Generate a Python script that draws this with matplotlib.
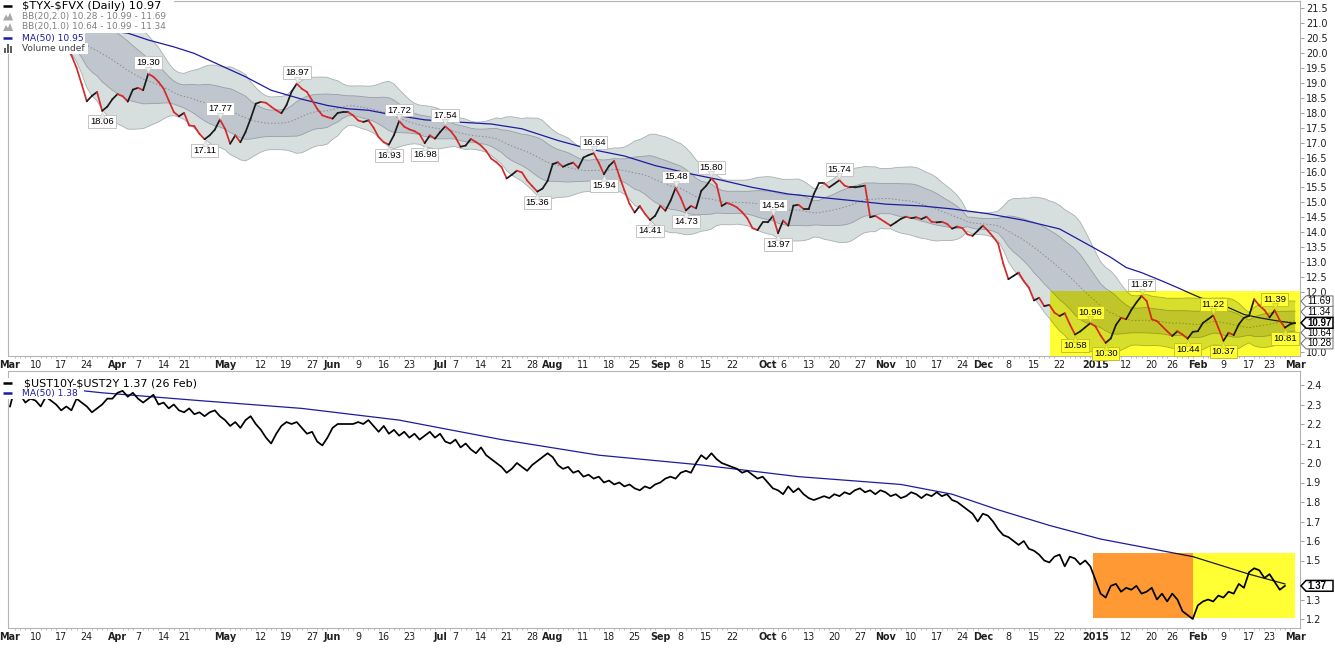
import numpy as np
import pandas as pd
import matplotlib
matplotlib.use("Agg")
import matplotlib.pyplot as plt
from matplotlib.collections import LineCollection
from matplotlib.patches import Rectangle, Polygon
from matplotlib.lines import Line2D
from matplotlib.colors import to_rgb
from matplotlib.transforms import offset_copy, IdentityTransform

plt.rcParams['font.family'] = ['DejaVu Sans']

W, H = 1335, 650

# ---------------- data ----------------
holidays = ["2014-04-18", "2014-05-26", "2014-07-04", "2014-09-01", "2014-11-27",
            "2014-12-25", "2015-01-01", "2015-01-19", "2015-02-16"]
days = pd.bdate_range("2014-03-03", "2015-03-02")
days = days[~days.isin(pd.to_datetime(holidays))]

tyx_fvx = [
    20.75, 20.85, 20.90, 20.80, 20.85, 20.70, 20.55, 20.60, 20.45, 20.30,
    20.35, 20.20, 19.92, 19.50, 18.95, 18.38, 18.56, 18.69, 18.06, 18.20,
    18.45, 18.62, 18.55, 18.37, 18.77, 18.83, 18.75, 19.30, 19.20, 19.03,
    18.80, 18.41, 18.02, 17.88, 17.99, 17.57, 17.55, 17.29, 17.11, 17.24,
    17.43, 17.77, 17.46, 16.96, 17.24, 17.01, 17.35, 17.80, 18.30, 18.36,
    18.33, 18.20, 18.08, 17.98, 18.25, 18.70, 18.97, 18.80, 18.69, 18.41,
    18.13, 17.91, 17.85, 17.80, 17.99, 18.02, 18.02, 17.91, 17.74, 17.69,
    17.74, 17.50, 17.18, 17.01, 16.93, 17.25, 17.72, 17.53, 17.44, 17.38,
    17.28, 16.98, 17.24, 17.13, 17.35, 17.54, 17.40, 17.18, 16.86, 16.90,
    17.12, 17.02, 16.90, 16.72, 16.46, 16.34, 16.18, 15.80, 15.92, 16.06,
    16.00, 15.73, 15.54, 15.36, 15.46, 15.72, 16.28, 16.34, 16.19, 16.27,
    16.33, 16.15, 16.50, 16.58, 16.64, 16.32, 15.94, 16.22, 16.38, 15.88,
    15.40, 14.95, 14.66, 14.88, 14.62, 14.41, 14.55, 14.88, 14.72, 15.05,
    15.48, 15.15, 14.73, 14.88, 14.80, 15.38, 15.56, 15.80, 15.60, 14.88,
    14.98, 14.92, 14.83, 14.67, 14.47, 14.14, 14.07, 14.33, 14.33, 14.54,
    13.97, 14.39, 14.22, 14.89, 14.92, 14.78, 14.78, 15.28, 15.64, 15.64,
    15.50, 15.62, 15.74, 15.56, 15.50, 15.50, 15.53, 15.56, 14.50, 14.55,
    14.44, 14.33, 14.22, 14.33, 14.45, 14.52, 14.47, 14.50, 14.44, 14.52,
    14.35, 14.33, 14.35, 14.28, 14.12, 14.19, 14.14, 13.93, 13.88, 14.05,
    14.22, 14.05, 13.85, 13.62, 12.95, 12.43, 12.54, 12.65, 12.37, 12.15,
    11.72, 11.81, 11.53, 11.57, 11.31, 11.20, 11.29, 10.92, 10.58, 10.68,
    10.82, 10.96, 10.85, 10.55, 10.30, 10.45, 10.90, 11.14, 11.09, 11.40,
    11.65, 11.87, 11.70, 11.09, 11.03, 10.86, 10.69, 10.53, 10.69, 10.58,
    10.44, 10.67, 10.69, 10.97, 11.09, 11.22, 10.81, 10.37, 10.64, 10.56,
    10.92, 11.14, 11.20, 11.76, 11.55, 11.40, 11.15, 11.39, 11.05, 10.81,
    10.92, 10.97]

ust10y_2y = [
    2.29, 2.39, 2.35, 2.31, 2.33, 2.32, 2.29, 2.34, 2.32, 2.30,
    2.27, 2.29, 2.27, 2.33, 2.31, 2.29, 2.26, 2.28, 2.30, 2.33,
    2.33, 2.36, 2.37, 2.34, 2.36, 2.33, 2.31, 2.33, 2.35, 2.30,
    2.31, 2.28, 2.30, 2.27, 2.26, 2.28, 2.25, 2.26, 2.24, 2.26,
    2.27, 2.24, 2.22, 2.19, 2.21, 2.18, 2.22, 2.24, 2.20, 2.17,
    2.13, 2.10, 2.15, 2.19, 2.21, 2.20, 2.21, 2.18, 2.15, 2.16,
    2.11, 2.09, 2.13, 2.18, 2.20, 2.20, 2.20, 2.20, 2.21, 2.20,
    2.22, 2.19, 2.16, 2.19, 2.15, 2.17, 2.14, 2.16, 2.13, 2.15,
    2.12, 2.14, 2.16, 2.13, 2.15, 2.11, 2.10, 2.12, 2.08, 2.10,
    2.07, 2.05, 2.08, 2.04, 2.02, 2.00, 1.98, 1.95, 1.97, 2.00,
    1.98, 1.96, 1.99, 2.01, 2.03, 2.05, 2.03, 1.99, 1.97, 1.98,
    1.95, 1.96, 1.93, 1.94, 1.92, 1.93, 1.90, 1.91, 1.89, 1.90,
    1.88, 1.89, 1.87, 1.86, 1.88, 1.87, 1.89, 1.90, 1.92, 1.93,
    1.92, 1.95, 1.96, 1.95, 2.00, 2.04, 2.02, 2.05, 2.02, 2.00,
    1.99, 1.98, 1.97, 1.95, 1.96, 1.94, 1.92, 1.93, 1.90, 1.87,
    1.86, 1.84, 1.88, 1.85, 1.87, 1.84, 1.82, 1.81, 1.82, 1.83,
    1.82, 1.84, 1.83, 1.85, 1.84, 1.86, 1.87, 1.85, 1.86, 1.84,
    1.86, 1.85, 1.83, 1.84, 1.82, 1.83, 1.85, 1.84, 1.82, 1.84,
    1.83, 1.85, 1.83, 1.84, 1.81, 1.80, 1.78, 1.76, 1.74, 1.70,
    1.74, 1.73, 1.70, 1.66, 1.63, 1.62, 1.60, 1.58, 1.60, 1.56,
    1.55, 1.53, 1.50, 1.49, 1.52, 1.53, 1.47, 1.52, 1.51, 1.48,
    1.50, 1.47, 1.40, 1.33, 1.31, 1.37, 1.38, 1.34, 1.36, 1.35,
    1.37, 1.33, 1.34, 1.36, 1.30, 1.33, 1.29, 1.33, 1.30, 1.24,
    1.22, 1.20, 1.27, 1.29, 1.30, 1.29, 1.32, 1.31, 1.34, 1.33,
    1.38, 1.36, 1.44, 1.46, 1.45, 1.41, 1.43, 1.39, 1.35, 1.37]

# MA(50) (session number, value)
top_ma_session = [0, 5, 10, 14, 20, 23, 27, 32, 36, 41, 46, 51, 57, 62, 66, 70, 74, 81, 87, 94,
                  100, 107, 113, 120, 126, 133, 139, 145, 152, 158, 165, 171, 178, 184, 191,
                  198, 205, 212, 215, 218, 221, 225, 228, 231, 234, 238, 241, 244, 247, 251]
top_ma = [21.05, 20.98, 20.90, 20.83, 20.72, 20.66, 20.43, 20.20, 19.98, 19.59, 19.20, 18.75,
          18.45, 18.24, 18.13, 18.08, 17.95, 17.76, 17.69, 17.62, 17.46, 17.07, 16.79, 16.55,
          16.23, 15.95, 15.74, 15.50, 15.28, 15.17, 15.05, 14.94, 14.88, 14.78, 14.62, 14.40,
          14.11, 13.45, 13.16, 12.82, 12.65, 12.37, 12.15, 11.92, 11.70, 11.48, 11.25, 11.14,
          11.05, 10.95]
bot_ma_session = [0, 18, 37, 57, 76, 96, 115, 135, 154, 174, 184, 193, 203, 213, 223, 231, 242, 249]
bot_ma = [2.41, 2.36, 2.32, 2.28, 2.22, 2.12, 2.04, 1.99, 1.93, 1.89, 1.84, 1.76, 1.68, 1.61,
          1.56, 1.52, 1.43, 1.38]

top_peaks = [27, 41, 56, 76, 85, 114, 130, 137, 149, 162, 211, 221, 235, 247]
top_troughs = [18, 38, 74, 81, 103, 116, 125, 132, 150, 208, 214, 230, 237, 249]

top_title = "$TYX-$FVX (Daily) 10.97"
bb2_text = "BB(20,2.0) 10.28 - 10.99 - 11.69"
bb1_text = "BB(20,1.0) 10.64 - 10.99 - 11.34"
ma_top_text = "MA(50) 10.95"
vol_text = "Volume undef"
bot_title = "$UST10Y-$UST2Y 1.37 (26 Feb)"
ma_bot_text = "MA(50) 1.38"
top_tags = [(11.69, "11.69", False), (10.28, "10.28", False), (11.34, "11.34", False),
            (10.64, "10.64", False), (10.97, "10.97", True)]
bot_tags = [(1.37, "1.37", True)]
top_yticks = [10.0, 12.0, 12.5, 13.0, 13.5, 14.0, 14.5, 15.0, 15.5, 16.0, 16.5, 17.0, 17.5,
              18.0, 18.5, 19.0, 19.5, 20.0, 20.5, 21.0, 21.5]
bot_yticks = [1.2, 1.3, 1.5, 1.6, 1.7, 1.8, 1.9, 2.0, 2.1, 2.2, 2.3, 2.4]

tick_dates = ["2014-03-03", "2014-03-10", "2014-03-17", "2014-03-24", "2014-04-01", "2014-04-07",
              "2014-04-14", "2014-04-21", "2014-05-01", "2014-05-12", "2014-05-19", "2014-05-27",
              "2014-06-02", "2014-06-09", "2014-06-16", "2014-06-23", "2014-07-01", "2014-07-07",
              "2014-07-14", "2014-07-21", "2014-07-28", "2014-08-01", "2014-08-11", "2014-08-18",
              "2014-08-25", "2014-09-02", "2014-09-08", "2014-09-15", "2014-09-22", "2014-10-01",
              "2014-10-06", "2014-10-13", "2014-10-20", "2014-10-27", "2014-11-03", "2014-11-10",
              "2014-11-17", "2014-11-24", "2014-12-01", "2014-12-08", "2014-12-15", "2014-12-22",
              "2015-01-02", "2015-01-12", "2015-01-20", "2015-01-26", "2015-02-02", "2015-02-09",
              "2015-02-17", "2015-02-23", "2015-03-02"]
tick_text = ["Mar", "10", "17", "24", "Apr", "7", "14", "21", "May", "12", "19", "27",
             "Jun", "9", "16", "23", "Jul", "7", "14", "21", "28", "Aug", "11", "18", "25",
             "Sep", "8", "15", "22", "Oct", "6", "13", "20", "27", "Nov", "10", "17", "24",
             "Dec", "8", "15", "22", "2015", "12", "20", "26", "Feb", "9", "17", "23", "Mar"]

# ---------------- derived ----------------
close = np.array(tyx_fvx)
spread = np.array(ust10y_2y)
x1 = np.arange(len(close))
x2 = np.arange(len(spread))
s = pd.Series(close)
mid = s.rolling(20, min_periods=1).mean().values
sd = s.rolling(20, min_periods=1).std(ddof=0).values
up2, lo2 = mid + 2 * sd, mid - 2 * sd
up1, lo1 = mid + sd, mid - sd
tick_idx = [days.get_loc(pd.Timestamp(d)) for d in tick_dates]

RED = '#d42a2a'
BLK = '#1a1a1a'
BLUE = '#1c1ca0'
C_OUT = '#d7dede'
C_IN = '#c0c6cd'
E_OUT = '#a8b0b2'
E_IN = '#979fa6'
C_MID = '#8c8c8c'
YEL = '#ffff33'
ORA = '#ff9933'


def mul(c, h):
    return tuple(np.array(to_rgb(c)) * np.array(to_rgb(h)))


def esc(t):
    return t.replace('$', r'\$')


fig = plt.figure(figsize=(W / 100, H / 100), dpi=100)
fig.patch.set_facecolor('white')
ax1 = fig.add_axes([8 / W, (H - 356) / H, 1292 / W, 355 / H])
ax2 = fig.add_axes([8 / W, (H - 628) / H, 1292 / W, 257 / H])

XL = (-0.39, 251.95)
ax1.set_xlim(*XL)
ax2.set_xlim(*XL)
ax1.set_ylim(21.5 - 348 / 29.9, 21.5 + 7 / 29.9)
ax2.set_ylim(1.2 - 9 / 195, 2.4 + 14 / 195)


def value_label(ax, i, up, f, z):
    v = close[i]
    dy = 11 if up else -11
    arts = []
    t = ax.annotate(f"{v:.2f}", xy=(i, v), xytext=(0, dy), textcoords='offset pixels',
                    ha='center', va='center', fontsize=6.8, family='Liberation Sans',
                    color=f('#000000'), zorder=z,
                    bbox=dict(boxstyle='square,pad=0.2', fc=f('#ffffff'), ec=f('#c4c4c4'), lw=0.7))
    arts.append(t)
    tr = offset_copy(ax.transData, fig=ax.figure, x=0, y=(4 if up else -4), units='dots')
    m = ax.plot([i], [v], marker='v' if up else '^', ms=4.5, color=f('#ececec'),
                mec=f('#c4c4c4'), mew=0.4, transform=tr, zorder=z, ls='none')[0]
    arts.append(m)
    return arts


def draw_top(ax, hl=None, clip=None, z=1.0):
    f = (lambda c: mul(c, hl)) if hl else (lambda c: c)
    arts = []
    arts.append(ax.fill_between(x1, lo2, up2, facecolor=f(C_OUT), edgecolor='none', zorder=z))
    arts.append(ax.fill_between(x1, lo1, up1, facecolor=f(C_IN), edgecolor='none', zorder=z + 0.1))
    for arr, c in ((up2, E_OUT), (lo2, E_OUT), (up1, E_IN), (lo1, E_IN)):
        arts += ax.plot(x1, arr, color=f(c), lw=0.6, zorder=z + 0.2)
    arts += ax.plot(x1, mid, color=f(C_MID), lw=0.7, ls=(0, (1.5, 2)), zorder=z + 0.3)
    arts += ax.plot(top_ma_session, top_ma, color=f(BLUE), lw=0.9, zorder=z + 0.4)
    pts = np.column_stack([x1, close])
    segs = np.stack([pts[:-1], pts[1:]], axis=1)
    cols = [f(RED) if close[k + 1] < close[k] else f(BLK) for k in range(len(close) - 1)]
    lc = LineCollection(segs, colors=cols, linewidths=1.25, zorder=z + 0.5, capstyle='round',
                        joinstyle='round')
    ax.add_collection(lc)
    arts.append(lc)
    for i in top_peaks:
        arts += value_label(ax, i, True, f, z + 0.6)
    for i in top_troughs:
        arts += value_label(ax, i, False, f, z + 0.6)
    if clip is not None:
        for a in arts:
            a.set_clip_path(clip)


def draw_bot(ax, hl=None, clip=None, z=1.0):
    f = (lambda c: mul(c, hl)) if hl else (lambda c: c)
    arts = []
    arts += ax.plot(bot_ma_session, bot_ma, color=f(BLUE), lw=0.9, zorder=z)
    arts += ax.plot(x2, spread, color=f('#000000'), lw=1.25, zorder=z + 0.1,
                    solid_joinstyle='round')
    if clip is not None:
        for a in arts:
            a.set_clip_path(clip)


# pass 1: normal
draw_top(ax1, z=1)
draw_bot(ax2, z=1)

# highlight rectangles (multiply-style highlighter)
r_top = Rectangle((203.1, 5.0), 60, 12.05 - 5.0, facecolor=YEL, edgecolor='none', zorder=10)
ax1.add_patch(r_top)
draw_top(ax1, hl=YEL, clip=r_top, z=11)

r_or = Rectangle((211.5, 1.205), 231.1 - 211.5, 1.538 - 1.205, facecolor=ORA, edgecolor='none', zorder=10)
r_ye = Rectangle((231.1, 1.205), 251.0 - 231.1, 1.538 - 1.205, facecolor=YEL, edgecolor='none', zorder=10)
ax2.add_patch(r_or)
ax2.add_patch(r_ye)
draw_bot(ax2, hl=ORA, clip=r_or, z=11)
draw_bot(ax2, hl=YEL, clip=r_ye, z=11)

# axes styling
for ax in (ax1, ax2):
    for sp in ax.spines.values():
        sp.set_color('#b4b4b4')
        sp.set_linewidth(0.8)
    ax.set_facecolor('white')
    ax.yaxis.tick_right()
    ax.tick_params(axis='y', which='major', direction='out', length=3, width=0.6,
                   color='#909090', labelsize=7, pad=1.5, labelcolor='#202020')
    ax.set_xticks(tick_idx)
    ax.set_xticklabels(tick_text)
    ax.tick_params(axis='x', which='major', length=0, pad=3, labelsize=6.9, labelcolor='#202020')
    ax.set_xticks(np.arange(len(days)), minor=True)
    ax.tick_params(axis='x', which='minor', direction='out', length=1.5, width=0.5, color='#a0a0a0')
    for lab, txt in zip(ax.get_xticklabels(), tick_text):
        if not (txt.isdigit() and len(txt) <= 2):
            lab.set_fontweight('bold')

ax1.set_yticks(top_yticks)
ax1.set_yticklabels([f"{v:.1f}" for v in top_yticks])
ax2.set_yticks(bot_yticks)
ax2.set_yticklabels([f"{v:.1f}" for v in bot_yticks])


# ---------------- legends (pixel placement) ----------------
def fx(x):
    return x / W


def fy(y):
    return 1 - y / H


def legend_row(yc, text, color, size, box_w, weight='normal', tx=22):
    fig.add_artist(Rectangle((0, fy(yc + 5.5)), fx(box_w), 11 / H, transform=fig.transFigure,
                             fc='white', ec='none', zorder=20))
    fig.text(fx(tx), fy(yc), esc(text), color=color, fontsize=size, va='center', ha='left',
             zorder=21, fontweight=weight)


def dash(yc, color, x0=3, x1_=12, lw=1.8):
    fig.add_artist(Line2D([fx(x0), fx(x1_)], [fy(yc), fy(yc)], transform=fig.transFigure,
                          color=color, lw=lw, zorder=22, solid_capstyle='butt'))


def mountain(yc):
    pts = [(3, yc + 4), (6, yc - 2), (8, yc + 1), (10, yc - 4), (13, yc + 4)]
    fig.add_artist(Polygon([(fx(a), fy(b)) for a, b in pts], closed=True,
                           transform=fig.transFigure, fc='#a8a8a8', ec='none', zorder=22))


def bars(yc):
    for k, hgt in enumerate([5, 8, 6]):
        fig.add_artist(Rectangle((fx(4 + 3 * k), fy(yc + 4)), fx(2), hgt / H,
                                 transform=fig.transFigure, fc='#606060', ec='none', zorder=22))


legend_row(6, top_title, '#000000', 8.2, 174, tx=22)
dash(6, '#000000')
legend_row(16.5, bb2_text, '#808080', 6.4, 166, tx=22)
mountain(16.5)
legend_row(27, bb1_text, '#808080', 6.4, 166, tx=22)
mountain(27)
legend_row(38, ma_top_text, BLUE, 6.6, 85, tx=22)
dash(38, BLUE)
legend_row(48.5, vol_text, '#404040', 6.5, 88, tx=22)
bars(48.5)

legend_row(383, bot_title, '#000000', 8.0, 205, tx=24)
dash(383, '#000000')
legend_row(393, ma_bot_text, BLUE, 6.6, 84, tx=22)
dash(393, BLUE)


# ---------------- value tags on right axis ----------------
def tag(ax, v, text, bold):
    yd = ax.transData.transform((0, v))[1]
    x0 = 1301
    hh = 5.4
    poly = [(x0, yd), (x0 + 5, yd + hh), (1333, yd + hh), (1333, yd - hh), (x0 + 5, yd - hh)]
    fig.add_artist(Polygon(poly, closed=True, transform=IdentityTransform(), fc='white',
                           ec='#000000' if bold else '#707070', lw=1.1 if bold else 0.7,
                           zorder=30))
    fig.text(fx(x0 + 6.5), yd / H, text, fontsize=7.0, family='Liberation Sans',
             fontweight='bold' if bold else 'normal',
             va='center', ha='left', zorder=31, color='#000000')


for v, t, b in top_tags:
    tag(ax1, v, t, b)
for v, t, b in bot_tags:
    tag(ax2, v, t, b)

fig.savefig("out.png", dpi=100, facecolor='white')
